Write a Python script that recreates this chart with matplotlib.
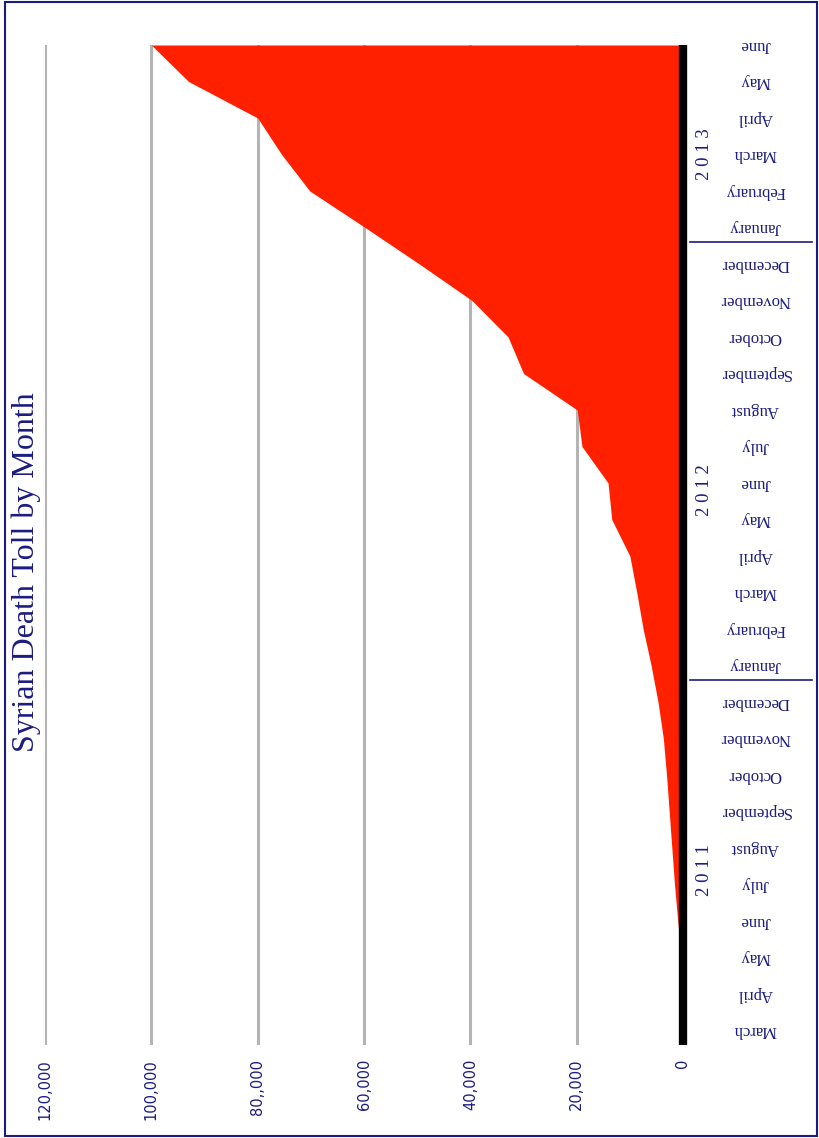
import matplotlib

matplotlib.use("Agg")
import matplotlib.pyplot as plt
from matplotlib.patches import Rectangle

# months from March 2011 to June 2013 (bottom to top on the chart)
MONTHS = [
    "March", "April", "May", "June", "July", "August", "September", "October", "November", "December",
    "January", "February", "March", "April", "May", "June", "July", "August", "September", "October",
    "November", "December",
    "January", "February", "March", "April", "May", "June",
]
# cumulative death toll
DEATHS = [
    0, 0, 300, 1000, 1600, 2100, 2600, 3100, 3700, 4700,
    6000, 7500, 8700, 10000, 13400, 14100, 19000, 19900, 30000, 32900,
    39700, 49600,
    59800, 70200, 75500, 80000, 93000, 100000,
]
YEARS = ["2 0 1 1", "2 0 1 2", "2 0 1 3"]
YEAR_POS = [4.4, 14.8, 24.0]
YEAR_BREAKS = [9.6, 21.6]
TICKS = [0, 20000, 40000, 60000, 80000, 100000, 120000]
TICK_LABELS = ["0", "20,000", "40,000", "60,000", "80,,000", "100,000", "120,000"]

NAVY = "#1c1c80"
RED = "#ff2000"
SERIF = "Liberation Serif"

W, H = 819, 1138
fig = plt.figure(figsize=(W / 100, H / 100), dpi=100)
ax = fig.add_axes([45 / W, (H - 1045) / H, (683 - 45) / W, 1000 / H])

idx = list(range(len(MONTHS)))
ax.fill_betweenx(idx, 0, DEATHS, color=RED, lw=0, zorder=2)

ax.set_xlim(120000, 0)
ax.set_ylim(-0.4, len(MONTHS) - 1)

for t in TICKS[1:]:
    ax.axvline(t, color="#b4b4b4", lw=2.2, zorder=1)
ax.plot([0, 0], [-0.4, len(MONTHS) - 1], color="black", lw=6, solid_capstyle="butt",
        clip_on=False, zorder=3)

for s in ax.spines.values():
    s.set_visible(False)
ax.set_yticks([])
ax.set_xticks(TICKS)
ax.set_xticklabels(TICK_LABELS, rotation=90, color=NAVY, fontsize=10.5, family="DejaVu Sans")
ax.tick_params(axis="x", length=0, pad=10)

tr = ax.get_yaxis_transform()
for i, m in enumerate(MONTHS):
    ax.text(1.113, i, m, transform=tr, rotation=180, ha="center", va="center",
            fontsize=12, color=NAVY, family=SERIF)

for y, p in zip(YEARS, YEAR_POS):
    ax.text(1.033, p, y, transform=tr, rotation=90, ha="center", va="center",
            fontsize=13.5, color=NAVY, family=SERIF)

for b in YEAR_BREAKS:
    ax.plot([1.011, 1.202], [b, b], transform=tr, color=NAVY, lw=1.2, clip_on=False)

fig.text(26 / W, 1 - 572 / H, "Syrian Death Toll by Month", rotation=90, ha="center", va="center",
         fontsize=23, color=NAVY, family=SERIF)

fig.patches.append(Rectangle((5 / W, 2 / H), 812 / W, 1134 / H, transform=fig.transFigure,
                             fill=False, edgecolor=NAVY, lw=1.5))

fig.savefig("out.png", dpi=100)
